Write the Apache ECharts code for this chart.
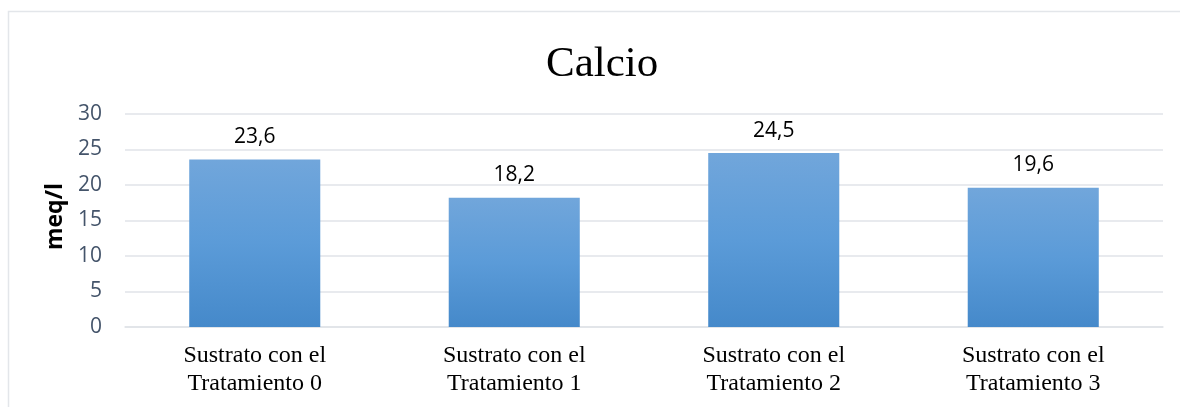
<!DOCTYPE html>
<html>
<head>
<meta charset="utf-8">
<script src="https://cdn.jsdelivr.net/npm/echarts@6/dist/echarts.min.js"></script>
<style>
  html, body { margin: 0; padding: 0; background: #fff; }
  #chart { width: 1180px; height: 407px; }
</style>
</head>
<body>
<div id="chart"></div>
<script>
const categories = [
  'Sustrato con el\nTratamiento 0',
  'Sustrato con el\nTratamiento 1',
  'Sustrato con el\nTratamiento 2',
  'Sustrato con el\nTratamiento 3'
];
const calcio = [23.6, 18.2, 24.5, 19.6];
const yTicks = [0, 5, 10, 15, 20, 25, 30];

const chart = echarts.init(document.getElementById('chart'));
chart.setOption({
  animation: false,
  graphic: [{
    type: 'rect',
    shape: { x: 8.5, y: 11.5, width: 1200, height: 420 },
    style: { fill: 'none', stroke: '#e3e6ea', lineWidth: 1.5 },
    silent: true
  }],
  title: {
    text: 'Calcio',
    left: 541,
    top: 38,
    textStyle: {
      fontFamily: 'Liberation Serif',
      fontSize: 43,
      fontWeight: 'normal',
      color: '#000'
    }
  },
  grid: { left: 125, right: 17, top: 114, bottom: 80, containLabel: false },
  xAxis: {
    type: 'category',
    data: categories,
    axisLine: { show: true, lineStyle: { color: '#e0e3e8', width: 1.5 } },
    axisTick: { show: false },
    axisLabel: {
      margin: 15,
      lineHeight: 28,
      fontFamily: 'Liberation Serif',
      fontSize: 24,
      color: '#000'
    }
  },
  yAxis: {
    type: 'value',
    min: 0,
    max: 30,
    interval: 5,
    name: 'meq/l',
    nameLocation: 'middle',
    nameGap: 58,
    nameTextStyle: {
      fontFamily: 'Open Sans',
      fontSize: 23,
      fontWeight: 'bold',
      color: '#000',
      padding: [0, 0, 0, 8]
    },
    axisLine: { show: false },
    axisTick: { show: false },
    splitLine: { lineStyle: { color: '#e0e3e8', width: 1.5 } },
    axisLabel: {
      margin: 23,
      fontFamily: 'Open Sans',
      fontSize: 21,
      color: '#44546a',
      formatter: v => yTicks.includes(v) ? String(v) : ''
    }
  },
  series: [{
    type: 'bar',
    data: calcio,
    barWidth: '50.5%',
    itemStyle: {
      color: new echarts.graphic.LinearGradient(0, 0, 0, 1, [
        { offset: 0, color: '#71a6db' },
        { offset: 0.5, color: '#5b9bd8' },
        { offset: 1, color: '#4589ca' }
      ])
    },
    label: {
      show: true,
      position: 'top',
      distance: 12,
      fontFamily: 'Open Sans',
      fontSize: 21,
      color: '#000',
      formatter: p => String(p.value).replace('.', ',')
    }
  }]
});
</script>
</body>
</html>
